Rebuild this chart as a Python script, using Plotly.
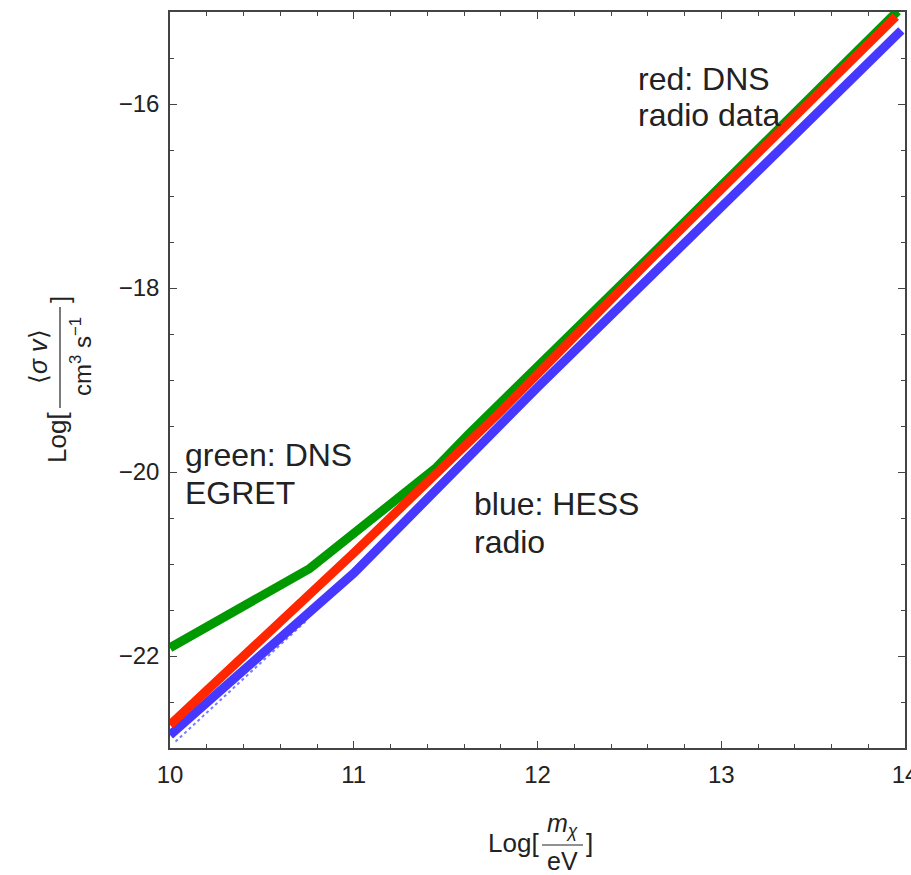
import plotly.graph_objects as go

# ---- data ----
x_green = [10.0, 10.76, 11.03, 11.25, 11.45, 11.62, 11.80, 12.0, 12.61, 13.6, 13.96]
y_green = [-21.91, -21.05, -20.62, -20.27, -19.95, -19.60, -19.25, -18.86, -17.66, -15.70, -14.99]

x_red = [10.0, 11.0, 11.79, 12.61, 13.6, 13.95]
y_red = [-22.75, -20.88, -19.36, -17.70, -15.74, -15.05]

x_blue = [10.0, 11.0, 12.0, 13.0, 13.98]
y_blue = [-22.86, -21.10, -19.08, -17.12, -15.20]

x_blue_dot = [10.03, 10.74]
y_blue_dot = [-22.93, -21.62]

x_ticks = [10, 11, 12, 13, 14]
y_ticks = [-22, -20, -18, -16]
y_ticktext = ["\u221222", "\u221220", "\u221218", "\u221216"]

# ---- layout helpers ----
W, H = 911, 875
L, R, T, B = 170, 905, 12, 748
FONT = "Liberation Sans, Arial, Helvetica, sans-serif"
TXT = "#222222"
AX = "#444444"


def px(xp):
    return (xp - L) / (R - L)


def py(yp):
    return (B - yp) / (B - T)


fig = go.Figure()
fig.add_trace(go.Scatter(x=x_blue_dot, y=y_blue_dot, mode="lines",
                         line=dict(color="#7a7aff", width=2, dash="dot"),
                         showlegend=False, hoverinfo="skip"))
fig.add_trace(go.Scatter(x=x_green, y=y_green, mode="lines",
                         line=dict(color="#009a00", width=9),
                         showlegend=False))
fig.add_trace(go.Scatter(x=x_blue, y=y_blue, mode="lines",
                         line=dict(color="#4638ff", width=9),
                         showlegend=False))
fig.add_trace(go.Scatter(x=x_red, y=y_red, mode="lines",
                         line=dict(color="#ff2600", width=9),
                         showlegend=False))
# invisible trace so that the mirrored (top/right) tick axes are drawn
fig.add_trace(go.Scatter(x=[x_ticks[0]], y=[y_ticks[0]], mode="markers",
                         marker=dict(opacity=0), xaxis="x2", yaxis="y2",
                         showlegend=False, hoverinfo="skip"))

tick_common = dict(ticks="inside", ticklen=7, tickwidth=1.2, tickcolor=AX,
                   automargin=False)
xminor = dict(dtick=0.2, ticks="inside", ticklen=4, tickcolor=AX, tickwidth=1)
yminor = dict(dtick=0.5, ticks="inside", ticklen=4, tickcolor=AX, tickwidth=1)

fig.update_layout(
    xaxis=dict(range=[10, 14], tickvals=x_ticks, minor=xminor,
               showgrid=False, zeroline=False, showline=True, linecolor=AX,
               linewidth=1.5, mirror=True, ticklabelstandoff=4,
               ticklabeloverflow="allow",
               tickfont=dict(family=FONT, size=24, color=TXT), **tick_common),
    yaxis=dict(range=[-23, -15], tickvals=y_ticks, ticktext=y_ticktext,
               minor=yminor, showgrid=False, zeroline=False, showline=True,
               linecolor=AX, linewidth=1.5, mirror=True, ticklabelstandoff=4,
               tickfont=dict(family=FONT, size=24, color=TXT), **tick_common),
    xaxis2=dict(range=[10, 14], tickvals=x_ticks, minor=xminor,
                overlaying="x", side="top", showticklabels=False,
                showgrid=False, zeroline=False, showline=False, **tick_common),
    yaxis2=dict(range=[-23, -15], tickvals=y_ticks, minor=yminor,
                overlaying="y", side="right", showticklabels=False,
                showgrid=False, zeroline=False, showline=False, **tick_common),
)

ann = []


def text(s, xp, yp, size, xanchor="left", yanchor="middle", angle=0):
    ann.append(dict(text=s, x=px(xp), y=py(yp), xref="paper", yref="paper",
                    xanchor=xanchor, yanchor=yanchor, showarrow=False,
                    textangle=angle,
                    font=dict(family=FONT, size=size, color=TXT)))


# in-plot labels
text("green: DNS", 183, 455, 32)
text("EGRET", 183, 493, 32)
text("blue: HESS", 472, 504, 32)
text("radio", 472, 542, 32)
text("red: DNS", 636, 79, 32)
text("radio data", 636, 115, 32)

# x-axis title: Log[ m_chi / eV ]
text("Log[", 541, 843, 26, xanchor="right")
text("<i>m</i><sub><i>\u03c7</i></sub>", 562, 825, 25, xanchor="center")
text("eV", 562, 861, 25, xanchor="center")
text("]", 584, 843, 26, xanchor="left")

# y-axis title: Log[ <sigma v> / cm^3 s^-1 ], rotated
text("Log[", 57, 438, 26, xanchor="center", angle=-90)
text("\u27e8<i>\u03c3 v</i>\u27e9", 38, 357, 25, xanchor="center", angle=-90)
text("cm<sup>3</sup> s<sup>\u22121</sup>", 81, 357, 24, xanchor="center", angle=-90)
text("]", 60, 300, 26, xanchor="center", angle=-90)

fig.update_layout(
    width=W, height=H,
    margin=dict(l=L, r=W - R, t=T, b=H - B, autoexpand=False),
    paper_bgcolor="white", plot_bgcolor="white",
    annotations=ann,
    shapes=[
        dict(type="line", xref="paper", yref="paper",
             x0=px(542), x1=px(583), y0=py(845), y1=py(845),
             line=dict(color=TXT, width=1.2)),
        dict(type="line", xref="paper", yref="paper",
             x0=px(60), x1=px(60), y0=py(307), y1=py(408),
             line=dict(color=TXT, width=1.2)),
    ],
    font=dict(family=FONT, color=TXT),
)

fig.write_html("out.html")
